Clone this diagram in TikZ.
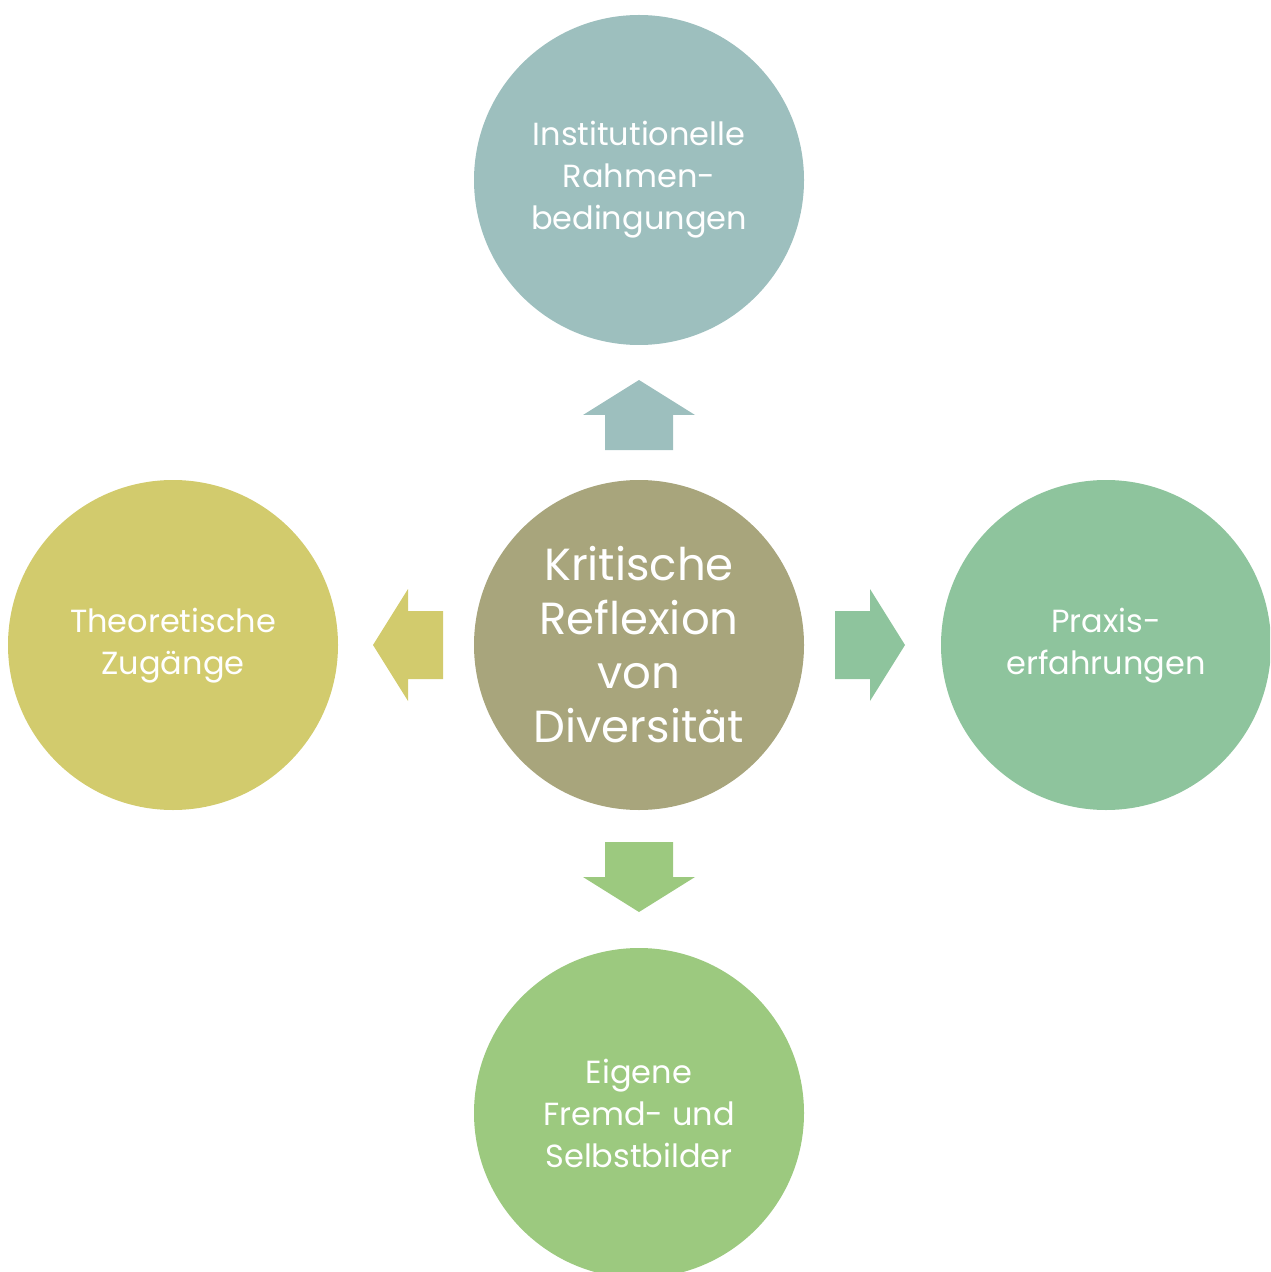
\documentclass[tikz,border=0pt]{standalone}
\usepackage{fontspec}
\setmainfont{Poppins}
\definecolor{topc}{HTML}{9DBFBE}
\definecolor{midc}{HTML}{A8A57C}
\definecolor{leftc}{HTML}{D2CB6D}
\definecolor{rightc}{HTML}{8EC49D}
\definecolor{botc}{HTML}{9CC97F}
\newcommand{\lowlines}[1]{\raisebox{-1.5pt}{\setlength{\tabcolsep}{0pt}\begin{tabular}{c}#1\end{tabular}}}
\begin{document}
\begin{tikzpicture}[x=0.5pt,y=-0.5pt,
  topic/.style={circle,minimum size=165pt,inner sep=0pt,text=white,align=center,
    font=\fontsize{16}{21}\selectfont},
  coretopic/.style={topic,font=\fontsize{22.5}{27}\selectfont},
  pics/blockarrow/.style={code={
    \fill[#1] (0,-34) -- (35,-34) -- (35,-56) -- (70,0) -- (35,56) -- (35,34) -- (0,34) -- cycle;}}]
\useasboundingbox (0,0) rectangle (1270,1272);
\clip (0,0) rectangle (1270,1272);

% circles
\node[topic,fill=topc]  (inst) at (639,180)  {Institutionelle\\Rahmen-\\bedingungen};
\node[coretopic,fill=midc] (core) at (639,645) {Kritische\\Reflexion\\von\\Diversität};
\node[topic,fill=leftc] (theo) at (173,645)  {\lowlines{Theoretische\\Zugänge}};
\node[topic,fill=rightc] (prax) at (1106,645) {\lowlines{Praxis-\\erfahrungen}};
\node[topic,fill=botc]  (bild) at (639,1113) {Eigene\\Fremd- und\\Selbstbilder};

% block arrows from the centre outwards
\pic[rotate=90]  at (639,450) {blockarrow=topc};
\pic[rotate=180] at (443,645) {blockarrow=leftc};
\pic             at (835,645) {blockarrow=rightc};
\pic[rotate=-90] at (639,842) {blockarrow=botc};
\end{tikzpicture}
\end{document}
